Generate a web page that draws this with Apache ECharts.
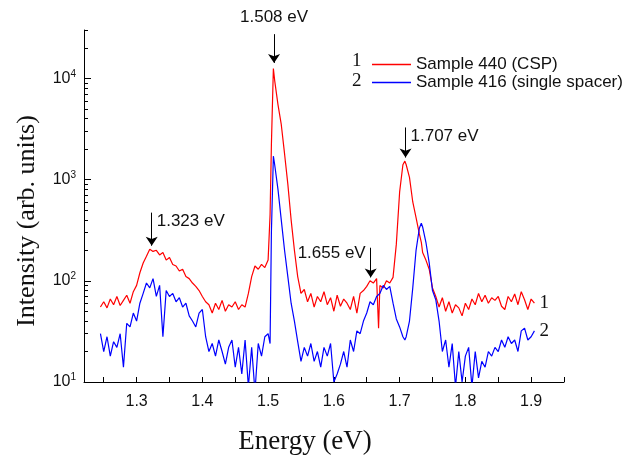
<!DOCTYPE html>
<html>
<head>
<meta charset="utf-8">
<script src="https://cdn.jsdelivr.net/npm/echarts@6/dist/echarts.min.js"></script>
<style>
  html, body { margin: 0; padding: 0; background: #fff; }
  #chart { width: 639px; height: 464px; }
</style>
</head>
<body>
<div id="chart"></div>
<script>
// photon energy (eV)
const energy = [
  1.245, 1.250, 1.255, 1.260, 1.265, 1.270, 1.275, 1.280, 1.285, 1.290,
  1.295, 1.300, 1.305, 1.310, 1.315, 1.320, 1.325, 1.330, 1.335, 1.340,
  1.345, 1.350, 1.355, 1.360, 1.365, 1.370, 1.375, 1.380, 1.385, 1.390,
  1.395, 1.400, 1.405, 1.410, 1.415, 1.420, 1.425, 1.430, 1.435, 1.440,
  1.445, 1.450, 1.455, 1.460, 1.465, 1.470, 1.475, 1.480, 1.485, 1.490,
  1.495, 1.500, 1.503, 1.505, 1.508, 1.510, 1.515, 1.520, 1.525, 1.530,
  1.535, 1.540, 1.545, 1.550, 1.555, 1.560, 1.565, 1.570, 1.575, 1.580,
  1.585, 1.590, 1.595, 1.600, 1.605, 1.610, 1.615, 1.620, 1.625, 1.630,
  1.635, 1.640, 1.645, 1.650, 1.655, 1.660, 1.665, 1.668, 1.670, 1.675,
  1.680, 1.685, 1.690, 1.695, 1.700, 1.705, 1.708, 1.710, 1.715, 1.720,
  1.725, 1.730, 1.733, 1.735, 1.740, 1.745, 1.750, 1.755, 1.760, 1.765,
  1.770, 1.775, 1.780, 1.785, 1.790, 1.795, 1.800, 1.805, 1.810, 1.815,
  1.820, 1.825, 1.830, 1.835, 1.840, 1.845, 1.850, 1.855, 1.860, 1.865,
  1.870, 1.875, 1.880, 1.885, 1.890, 1.895, 1.900, 1.905
];

// Sample 440 (CSP)
const sample440 = [
  55, 62, 54, 66, 58, 70, 57, 64, 72, 60,
  78, 90, 120, 150, 175, 205, 195, 200, 180, 190,
  160, 170, 145, 140, 125, 130, 110, 105, 95, 88,
  80, 70, 62, 58, 48, 60, 52, 64, 50, 58,
  55, 62, 52, 58, 55, 75, 110, 140, 130, 145,
  135, 160, 450, 2200, 12500, 9500, 5500, 3500, 1800, 900,
  400, 200, 110, 75, 82, 62, 75, 55, 70, 62,
  78, 58, 68, 50, 72, 56, 66, 60, 52, 70,
  48, 75, 80, 88, 100, 95, 105, 34, 90, 85,
  100, 95, 108, 230, 750, 1400, 1520, 1400, 1050, 600,
  420, 290, 240, 190, 160, 130, 85, 70, 55, 68,
  50, 62, 48, 58, 54, 45, 60, 52, 66, 58,
  75, 62, 72, 60, 68, 64, 70, 56, 52, 70,
  62, 74, 58, 78, 65, 52, 66, 60
];

// Sample 416 (single spacer)
const sample416 = [
  30, 20, 28, 18, 25, 22, 30, 14, 38, 35,
  48, 40, 60, 75, 95, 85, 105, 70, 90, 28,
  80, 70, 75, 62, 68, 55, 60, 45, 40, 35,
  48, 52, 28, 20, 24, 18, 26, 20, 15, 22,
  26, 14, 22, 12, 26, 9, 22, 8, 24, 18,
  28, 30, 24, 300, 1700, 1400, 800, 400, 200, 110,
  60, 40, 25, 16, 22, 18, 24, 16, 20, 14,
  22, 18, 24, 10, 12, 15, 20, 14, 26, 20,
  32, 30, 40, 48, 62, 58, 70, 72, 75, 90,
  82, 88, 60, 42, 35, 28, 26, 28, 40, 85,
  200, 330, 370, 340, 240, 150, 80, 65, 40, 20,
  26, 14, 24, 9, 20, 10, 18, 22, 9, 20,
  11, 16, 14, 20, 18, 22, 20, 26, 22, 28,
  24, 26, 20, 32, 34, 26, 28, 32
];

const xTickValues = [1.25, 1.3, 1.35, 1.4, 1.45, 1.5, 1.55, 1.6, 1.65, 1.7, 1.75, 1.8, 1.85, 1.9, 1.95];
const xLabelValues = [1.3, 1.4, 1.5, 1.6, 1.7, 1.8, 1.9];
const yLabelValues = [10, 100, 1000, 10000];
const yMinorValues = [
  20, 30, 40, 50, 60, 70, 80, 90,
  200, 300, 400, 500, 600, 700, 800, 900,
  2000, 3000, 4000, 5000, 6000, 7000, 8000, 9000,
  20000, 30000
];

const sans = 'Liberation Sans, Arial, sans-serif';
const serif = 'Liberation Serif, Times New Roman, serif';

function pairs(ys) {
  return energy.map((e, i) => [e, ys[i]]);
}

function arrow(e, from, to) {
  return [{ coord: [e, from] }, { coord: [e, to] }];
}

function note(text, e, v, pos, dist) {
  return {
    coord: [e, v],
    symbolSize: 0,
    label: { show: true, formatter: text, position: pos, distance: dist,
             color: '#111', fontFamily: sans, fontSize: 17 }
  };
}

var chart = echarts.init(document.getElementById('chart'), null, { renderer: 'canvas' });

var option = {
  animation: false,
  backgroundColor: '#fff',
  grid: { left: 84, right: 75, top: 30, bottom: 82 },
  legend: {
    left: 367, top: 51, orient: 'vertical',
    icon: 'rect', itemWidth: 39, itemHeight: 1.5, itemGap: 1,
    textStyle: { fontFamily: sans, fontSize: 17, color: '#111' },
    data: ['Sample 440 (CSP)', 'Sample 416 (single spacer)']
  },
  graphic: [
    { type: 'text', left: 352, top: 52, style: { text: '1', font: '19px ' + serif, fill: '#111' } },
    { type: 'text', left: 352, top: 72, style: { text: '2', font: '19px ' + serif, fill: '#111' } }
  ],
  xAxis: {
    type: 'value', min: 1.22, max: 1.95,
    name: 'Energy (eV)', nameLocation: 'middle', nameGap: 46,
    nameTextStyle: { fontFamily: serif, fontSize: 27, color: '#111', padding: [0, 38, 0, 0] },
    axisLine: { lineStyle: { color: '#000', width: 1 } },
    axisTick: { inside: true, length: 5, customValues: xTickValues, lineStyle: { color: '#000' } },
    axisLabel: { customValues: xLabelValues, fontFamily: sans, fontSize: 16, color: '#111', margin: 12,
                 formatter: v => v.toFixed(1) },
    splitLine: { show: false }
  },
  yAxis: [
    {
      type: 'log', logBase: 10, min: 10, max: 30000,
      name: 'Intensity (arb. units)', nameLocation: 'middle', nameGap: 44,
      nameTextStyle: { fontFamily: serif, fontSize: 26, color: '#111', padding: [0, 30, 0, 0] },
      axisLine: { show: true, lineStyle: { color: '#000', width: 1 } },
      axisTick: { show: true, inside: true, length: 7, customValues: yLabelValues, lineStyle: { color: '#000' } },
      axisLabel: {
        customValues: yLabelValues, margin: 8, color: '#111',
        formatter: v => '{b|10}{s|' + Math.round(Math.log10(v)) + '}',
        rich: {
          b: { fontFamily: sans, fontSize: 16, color: '#111' },
          s: { fontFamily: sans, fontSize: 10, color: '#111', verticalAlign: 'top', padding: [0, 0, 9, 0] }
        }
      },
      splitLine: { show: false }
    },
    {
      type: 'log', logBase: 10, min: 10, max: 30000, position: 'left',
      axisLine: { show: false },
      axisTick: { show: true, inside: true, length: 4, customValues: yMinorValues, lineStyle: { color: '#000' } },
      axisLabel: { show: false },
      splitLine: { show: false }
    }
  ],
  series: [
    {
      name: 'Sample 440 (CSP)', type: 'line', data: pairs(sample440),
      symbol: 'none', color: '#ff0000', lineStyle: { width: 1.2, color: '#ff0000' },
      endLabel: { show: true, formatter: '1', distance: 5, fontFamily: serif, fontSize: 19, color: '#111' },
      markLine: {
        silent: true, symbol: ['none', 'arrow'], symbolSize: 9,
        label: { show: false },
        lineStyle: { color: '#000', width: 1, type: 'solid' },
        data: [
          arrow(1.509, 27300, 14200),
          arrow(1.323, 471, 222),
          arrow(1.656, 212, 108),
          arrow(1.709, 3270, 1650)
        ]
      },
      markPoint: {
        silent: true,
        data: [
          note('1.508 eV', 1.509, 27300, 'top', 8),
          note('1.323 eV', 1.323, 390, 'right', 5),
          note('1.655 eV', 1.656, 185, 'left', 5),
          note('1.707 eV', 1.709, 2650, 'right', 5)
        ]
      }
    },
    {
      name: 'Sample 416 (single spacer)', type: 'line', data: pairs(sample416),
      symbol: 'none', color: '#0000ff', lineStyle: { width: 1.2, color: '#0000ff' },
      endLabel: { show: true, formatter: '2', distance: 5, fontFamily: serif, fontSize: 19, color: '#111' }
    }
  ]
};

chart.setOption(option);
</script>
</body>
</html>
